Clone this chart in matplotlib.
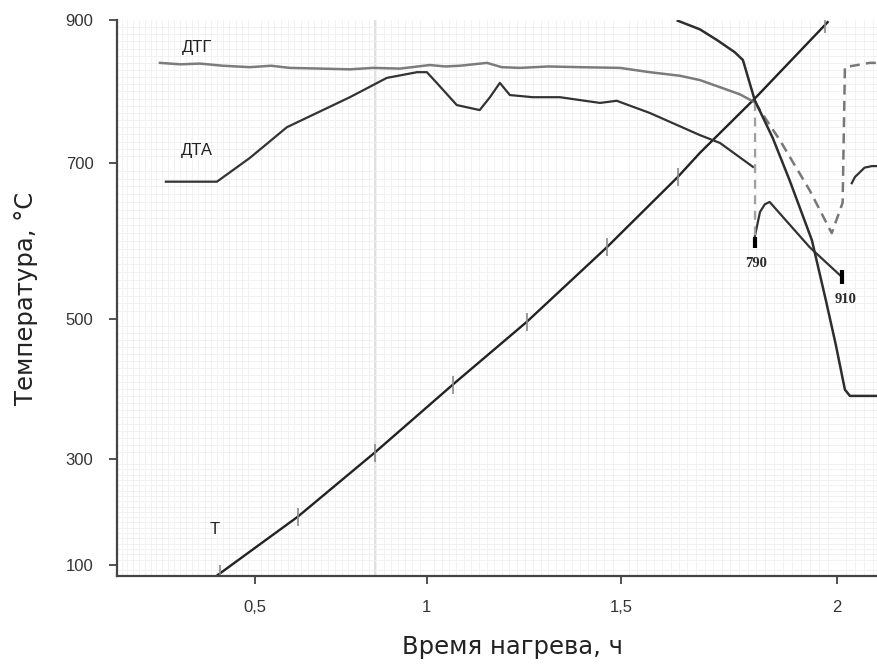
import numpy as np
import matplotlib.pyplot as plt
from matplotlib.ticker import FixedLocator, MultipleLocator

# --- data: thermogram (time in hours, values on the temperature scale) ---
t_time = [0.383, 0.631, 0.855, 1.070, 1.265, 1.466, 1.637, 1.689, 1.816, 1.980]
t_temp = [81, 191, 309, 406, 496, 592, 682, 714, 790, 897]
t_marks = [0.389, 0.631, 0.855, 1.070, 1.265, 1.466, 1.637, 1.975]

dtg_time = [0.192, 0.26, 0.325, 0.40, 0.484, 0.55, 0.607, 0.70, 0.784, 0.85,
            0.926, 1.008, 1.05, 1.089, 1.161, 1.20, 1.247, 1.32, 1.399, 1.498,
            1.570, 1.642, 1.689, 1.736, 1.782, 1.816, 1.873, 1.940, 1.989,
            2.013, 2.018, 2.072, 2.088]
dtg_val = [840, 838, 839, 836, 834, 836, 833, 832, 831, 833,
           832, 837, 835, 836, 840, 834, 833, 835, 834, 833,
           827, 822, 816, 806, 796, 785, 732, 665, 610,
           649, 834, 840, 840]

dta_a_time = [0.212, 0.380, 0.484, 0.598, 0.784, 0.889, 0.973, 1.000, 1.027,
              1.081, 1.142, 1.169, 1.195, 1.221, 1.280, 1.349, 1.399, 1.449,
              1.490, 1.570, 1.689, 1.736, 1.812]
dta_a_val = [676, 676, 707, 750, 792, 819, 827, 827, 812,
             781, 774, 792, 812, 795, 792, 792, 788, 784,
             787, 770, 739, 728, 695]
dta_b_time = [1.816, 1.828, 1.839, 1.850, 1.940, 2.011]
dta_b_val = [605, 637, 647, 650, 592, 554]
dta_c_time = [2.033, 2.040, 2.061, 2.077, 2.088]
dta_c_val = [674, 682, 694, 696, 696]

tg_time = [1.637, 1.689, 1.729, 1.770, 1.789, 1.816, 1.857, 1.895, 1.945,
           1.976, 1.998, 2.018, 2.029, 2.088]
tg_val = [899, 887, 872, 855, 844, 788, 735, 678, 601, 524, 463, 399, 390, 390]

peak_labels = ['790', '910']

x_ticks = [0.5, 1.0, 1.5, 2.0]
x_ticklabels = ['0,5', '1', '1,5', '2']
y_ticks = [100, 300, 500, 700, 900]


# chart paper is not uniform: quadratic time axis, uneven temperature axis
def fwd_x(x):
    return 278 * x + 44 * x ** 2


def inv_x(h):
    return (-278 + np.sqrt(np.maximum(278 ** 2 + 176 * h, 0))) / 88


y_knots = [-1000, 100, 300, 500, 700, 900, 3000]
h_knots = [-572, 11, 117, 257, 413, 556, 2057.5]


def fwd_y(v):
    return np.interp(v, y_knots, h_knots)


def inv_y(h):
    return np.interp(h, h_knots, y_knots)


fig = plt.figure(figsize=(8.77, 6.64), dpi=100)
ax = fig.add_axes([117 / 877, 88 / 664, 760 / 877, 556 / 664])
ax.set_xscale('function', functions=(fwd_x, inv_x))
ax.set_yscale('function', functions=(fwd_y, inv_y))
ax.set_xlim(0.043, 2.088)
ax.set_ylim(79, 900)

# millimetre paper
ax.xaxis.set_minor_locator(MultipleLocator(0.02))
ax.yaxis.set_minor_locator(MultipleLocator(10))
ax.grid(which='minor', color='#f0f0f0', linewidth=0.6)
ax.axvline(0.857, color='#dcdcdc', linewidth=1.2, zorder=0)

# T curve with time marks
ax.plot(t_time, t_temp, color='#222222', linewidth=1.7)
ax.plot(t_marks, np.interp(t_marks, t_time, t_temp), linestyle='none',
        marker='|', markersize=13, markeredgewidth=1.2, color='#8a8a8a')

# ДТГ: solid part, then dashed after the first peak
split = dtg_time.index(1.816)
ax.plot(dtg_time[:split + 1], dtg_val[:split + 1], color='#6e6e6e',
        linewidth=1.8, alpha=0.9)
ax.plot(dtg_time[split:], dtg_val[split:], color='#777777', linewidth=1.8,
        dashes=(4, 2.5))

# ДТА
ax.plot(dta_a_time, dta_a_val, color='#333333', linewidth=1.6)
ax.plot(dta_b_time, dta_b_val, color='#333333', linewidth=1.6)
ax.plot(dta_c_time, dta_c_val, color='#333333', linewidth=1.6)

# drop line for the 790 peak
t790 = dta_b_time[0]
ax.plot([t790, t790], [np.interp(t790, dtg_time, dtg_val), dta_b_val[0]],
        color='#a0a0a0', linewidth=1.6, dashes=(4, 3))

# TG
ax.plot(tg_time, tg_val, color='#2e2e2e', linewidth=1.8)

# peak markers
peaks = [(dta_b_time[0], dta_b_val[0]), (dta_b_time[-1], dta_b_val[-1])]
ax.plot(*peaks[0], marker=3, markersize=8, markeredgewidth=3, color='black')
ax.plot(*peaks[1], marker='|', markersize=10, markeredgewidth=3, color='black')
offsets = [(1, -19), (3, -16)]
for (pt, pv), lab, off in zip(peaks, peak_labels, offsets):
    ax.annotate(lab, xy=(pt, pv), xytext=off, textcoords='offset points',
                ha='center', va='center', fontsize=10.5, fontweight='bold',
                family='Liberation Serif', color='#2a2a2a')

# curve names
ax.text(0.315, 862, 'ДТГ', fontsize=12, family='Liberation Sans',
        ha='center', va='center', color='#222222')
ax.text(0.315, 717, 'ДТА', fontsize=12, family='Liberation Sans',
        ha='center', va='center', color='#222222')
ax.text(0.374, 166, 'T', fontsize=12, family='Liberation Sans',
        ha='center', va='center', color='#222222')

# axes styling
for side in ('top', 'right'):
    ax.spines[side].set_visible(False)
for side in ('left', 'bottom'):
    ax.spines[side].set_linewidth(1.6)
    ax.spines[side].set_color('#444444')
ax.xaxis.set_major_locator(FixedLocator(x_ticks))
ax.set_xticklabels(x_ticklabels)
ax.yaxis.set_major_locator(FixedLocator(y_ticks))
ax.tick_params(which='major', length=6, width=1.3, color='#444444',
               labelsize=12, labelcolor='#333333', pad=11)
ax.tick_params(which='minor', length=0)
for lab in ax.get_xticklabels() + ax.get_yticklabels():
    lab.set_family('Liberation Sans')

ax.set_xlabel('Время нагрева, ч', fontsize=17.5, family='DejaVu Sans',
              color='#222222')
ax.xaxis.set_label_coords(0.52, -0.107)
ax.set_ylabel('Температура, °C', fontsize=17.5, family='DejaVu Sans',
              color='#222222', labelpad=20)

fig.savefig('out.png', dpi=100)
plt.close(fig)
